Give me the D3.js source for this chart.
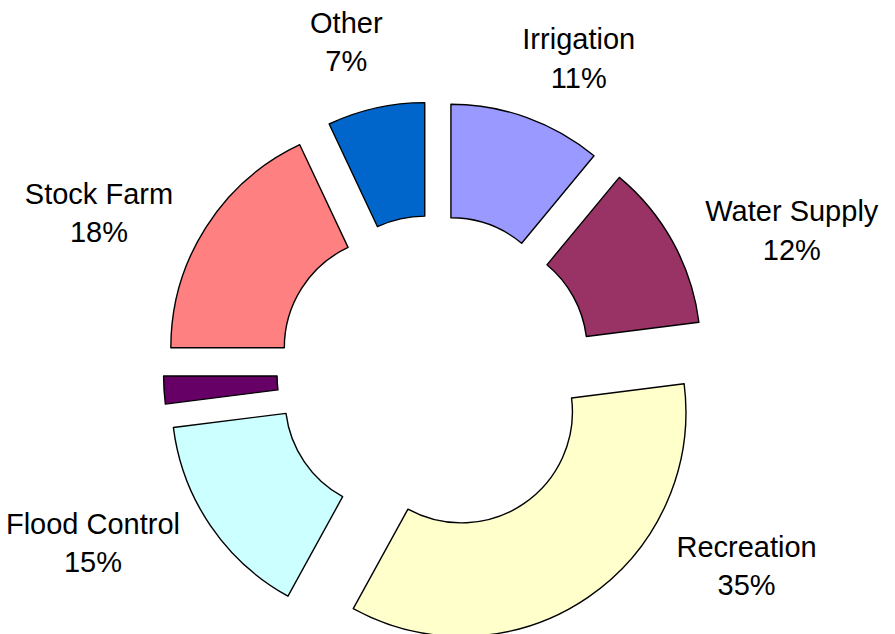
<!DOCTYPE html>
<html>
<head>
<meta charset="utf-8">
<script src="https://cdn.jsdelivr.net/npm/d3@7"></script>
<style>
  html, body { margin: 0; padding: 0; background: #fff; }
  svg { display: block; }
</style>
</head>
<body>
<svg id="chart"></svg>
<script>
// slices go clockwise from 12 o'clock
const categories = ['Irrigation', 'Water Supply', 'Recreation', 'Flood Control', '', 'Stock Farm', 'Other'];
const shares = [11, 12, 35, 15, 2, 18, 7];
// the thin purple slice carries no label in the picture
const showLabel = [true, true, true, true, false, true, true];
const colors = ['#9999FF', '#993366', '#FFFFCC', '#CCFFFF', '#660066', '#FF8080', '#0066CC'];

var width = 895;
var height = 634;

var cx = 435;
var cy = 373;
var outerR = 224.5;
var innerR = 111;
var explode = 47;

var labelDist = 306;
var labelStretch = 1.2;
var lineGap = 38.5;
var bottomPad = 30;

var svg = d3.select('#chart')
  .attr('width', width)
  .attr('height', height);

var data = categories.map(function (c, i) {
  return { name: c, value: shares[i], color: colors[i], label: showLabel[i] };
});

var pie = d3.pie()
  .sort(null)
  .value((d) => d.value);

var arcs = pie(data);

var arc = d3.arc()
  .innerRadius(innerR)
  .outerRadius(outerR);

var slices = svg.append('g')
  .attr('transform', `translate(${cx},${cy})`)
  .selectAll('path')
  .data(arcs)
  .join('path')
  .attr('d', arc)
  .attr('transform', function (d) {
    const m = (d.startAngle + d.endAngle) / 2;
    return `translate(${explode * Math.sin(m)},${-explode * Math.cos(m)})`;
  })
  .style('fill', (d) => d.data.color)
  .attr('stroke', '#000')
  .attr('stroke-width', 1.4)
  .attr('stroke-linejoin', 'round');

// labels sit outside the ring, pulled a little towards the sides
function labelCenter(phi, w, h) {
  const s = Math.sin(phi), c = Math.cos(phi);
  const px = cx + labelDist * s;
  const py = cy - labelDist * c;
  return [px + s * w / 2, py - c * h / 2];
}

var labels = svg.append('g')
  .selectAll('text')
  .data(arcs.filter((d) => d.data.label))
  .join('text')
  .attr('text-anchor', 'middle')
  .style('font-family', '"Liberation Sans", Arial, sans-serif')
  .style('font-size', '29px')
  .attr('fill', '#000');

labels.each(function (d) {
  var t = d3.select(this);
  var l1 = t.append('tspan').attr('x', 0).text(d.data.name);
  var l2 = t.append('tspan').attr('x', 0).text(d.data.value + '%');
  var w = Math.max(l1.node().getComputedTextLength(), l2.node().getComputedTextLength());
  var h = 75;

  var m = (d.startAngle + d.endAngle) / 2;
  var phi = Math.atan2(labelStretch * Math.sin(m), Math.cos(m));
  var target = Math.sin(phi) >= 0 ? Math.PI / 2 : -Math.PI / 2;
  var pos = labelCenter(phi, w, h);
  var step = Math.PI / 720;
  for (let k = 0; k < 400; k++) {
    const inside = pos[1] + h / 2 <= height - bottomPad && pos[1] - h / 2 >= 0 &&
      pos[0] - w / 2 >= 0 && pos[0] + w / 2 <= width;
    if (inside) break;
    phi += phi > target ? -step : step;
    pos = labelCenter(phi, w, h);
  }

  l1.attr('x', pos[0]).attr('y', pos[1] - 8.6);
  l2.attr('x', pos[0]).attr('y', pos[1] - 8.6 + lineGap);
});
</script>
</body>
</html>
